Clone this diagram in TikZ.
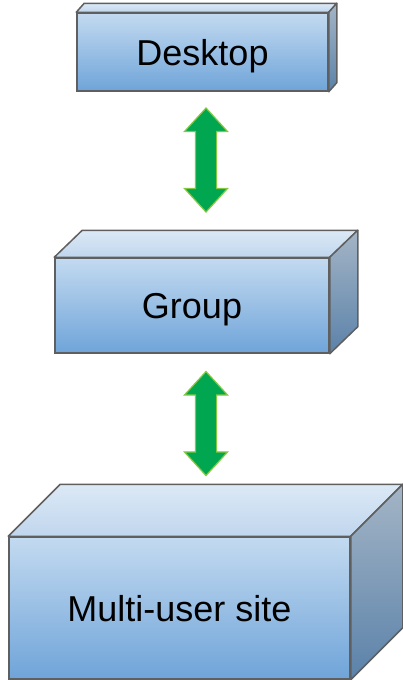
\documentclass[tikz,border=0pt]{standalone}
\usepackage{fontspec}
\setmainfont{Liberation Sans}
\usetikzlibrary{calc,shapes.arrows}
\definecolor{FaceTop}{HTML}{C3DAF0}
\definecolor{FaceBottom}{HTML}{6FA4D9}
\definecolor{LidBack}{HTML}{DCE9F6}
\definecolor{LidFront}{HTML}{C0D6ED}
\definecolor{SideTop}{HTML}{A4B5C6}
\definecolor{SideBottom}{HTML}{5B82A9}
\definecolor{EdgeGray}{HTML}{5F5F5F}
\definecolor{ArrowGreen}{HTML}{00A650}
\definecolor{ArrowRim}{HTML}{86C843}
\tikzset{
  front/.style={draw=EdgeGray,line width=1.5pt,top color=FaceTop,
    bottom color=FaceBottom,inner sep=0pt,text height=26pt,text depth=0pt,
    font=\fontsize{36}{40}\selectfont},
  lid/.style={draw=EdgeGray,line width=1.5pt,line join=round,
    top color=LidBack,bottom color=LidFront},
  side/.style={draw=EdgeGray,line width=1.5pt,line join=round,
    top color=SideTop,bottom color=SideBottom},
  swap/.style={double arrow,shape border rotate=90,fill=ArrowGreen,
    draw=ArrowRim,line width=1.2pt,inner xsep=10pt,inner ysep=0pt,
    minimum height=104pt,double arrow head extend=11pt,
    double arrow tip angle=85}
}

\begin{document}
\begin{tikzpicture}[x=1pt,y=-1pt]
  \useasboundingbox (0,0) rectangle (402,680);

  % front faces
  \node[front,minimum width=251pt,minimum height=78pt] (desktop) at (202.5,52) {Desktop};
  \node[front,minimum width=274pt,minimum height=95pt] (group) at (192,305.5) {Group};
  \node[front,minimum width=341pt,minimum height=142pt] (site) at (179.5,608) {Multi-user site};

  % lids and sides, pushed back by the depth of each box
  \foreach \n/\dx/\dy in {desktop/8/9,group/28/27,site/52/52}{
    \draw[lid] (\n.north west) -- ++(\dx,-\dy) -- ($(\n.north east)+(\dx,-\dy)$)
      -- (\n.north east) -- cycle;
    \draw[side] (\n.north east) -- ++(\dx,-\dy) -- ($(\n.south east)+(\dx,-\dy)$)
      -- (\n.south east) -- cycle;
  }

  % two-way arrows between the levels
  \node[swap] (deskgroup) at (206,160) {};
  \node[swap] (groupsite) at (206,423.5) {};
\end{tikzpicture}
\end{document}
